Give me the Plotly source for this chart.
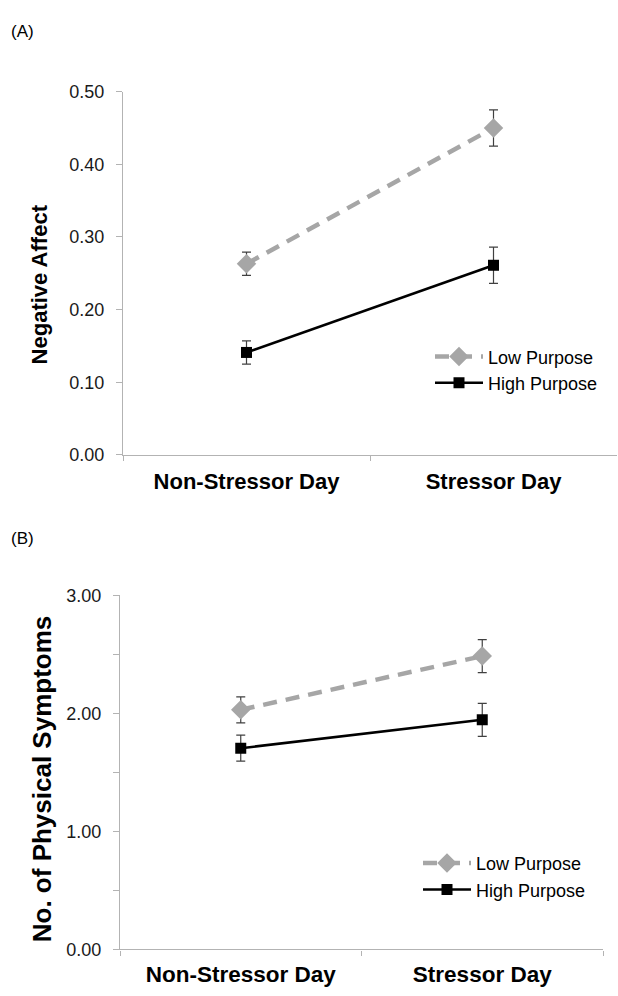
import plotly.graph_objects as go

# ---- data ----
days = ["Non-Stressor Day", "Stressor Day"]

# Panel A: Negative Affect
na_low = [0.263, 0.450]
na_low_err = [0.016, 0.025]
na_high = [0.141, 0.261]
na_high_err = [0.016, 0.025]

# Panel B: No. of Physical Symptoms
ps_low = [2.03, 2.485]
ps_low_err = [0.11, 0.14]
ps_high = [1.705, 1.945]
ps_high_err = [0.11, 0.14]

W, H = 618, 996
FONT = "Liberation Sans, Arial, sans-serif"
GRAY_AX = "#b3b3b3"
LOW_C = "#a6a6a6"
ERR_C = "#404040"


def px_x(p):
    return p / W


def px_y(p):
    return (H - p) / H


fig = go.Figure()


def add_panel(xa, ya, low, low_err, high, high_err, legend):
    fig.add_trace(go.Scatter(
        x=days, y=low, xaxis=xa, yaxis=ya, name="Low Purpose", legend=legend,
        mode="lines+markers",
        line=dict(color=LOW_C, width=4.5, dash="14px,9px"),
        marker=dict(symbol="diamond", size=15, color=LOW_C),
        error_y=dict(type="data", array=low_err, visible=True, color=ERR_C,
                     thickness=1.2, width=4.5),
    ))
    fig.add_trace(go.Scatter(
        x=days, y=high, xaxis=xa, yaxis=ya, name="High Purpose", legend=legend,
        mode="lines+markers",
        line=dict(color="#000000", width=2.5),
        marker=dict(symbol="square", size=11, color="#000000"),
        error_y=dict(type="data", array=high_err, visible=True, color=ERR_C,
                     thickness=1.2, width=4.5),
    ))


add_panel("x", "y", na_low, na_low_err, na_high, na_high_err, "legend")
add_panel("x2", "y2", ps_low, ps_low_err, ps_high, ps_high_err, "legend2")


def xaxis_style(size, standoff):
    return dict(
        type="category", range=[-0.5, 1.5], showline=True, linecolor=GRAY_AX,
        linewidth=1.3, ticks="outside", tickson="boundaries", ticklen=5,
        tickcolor=GRAY_AX, showgrid=False, zeroline=False,
        tickfont=dict(family=FONT, size=size, color="#000000", weight="bold"),
        ticklabelstandoff=standoff,
    )


ycommon = dict(
    showline=True, linecolor=GRAY_AX, linewidth=1.3, ticks="outside",
    ticklen=6, tickcolor=GRAY_AX, showgrid=False, zeroline=False,
    tickformat=".2f", tickfont=dict(family=FONT, size=18, color="#1a1a1a"),
    ticklabelstandoff=8,
)

legend_font = dict(family=FONT, size=18, color="#000000")

fig.update_layout(
    width=W, height=H,
    margin=dict(l=0, r=0, t=0, b=0),
    paper_bgcolor="white", plot_bgcolor="white",
    xaxis=dict(xaxis_style(22, 7), domain=[px_x(123), px_x(617)], anchor="y"),
    yaxis=dict(ycommon, domain=[px_y(454), px_y(83.3)], range=[0, 0.5],
               dtick=0.1, anchor="x"),
    xaxis2=dict(xaxis_style(22.5, 4), domain=[px_x(120), px_x(603)],
                anchor="y2"),
    yaxis2=dict(ycommon, domain=[px_y(958.7), px_y(597.3)], range=[0, 3],
                dtick=1, anchor="x2",
                minor=dict(dtick=0.5, ticks="outside", ticklen=6,
                           tickcolor=GRAY_AX)),
    legend=dict(x=px_x(430), y=px_y(335), xanchor="left", yanchor="top",
                bgcolor="rgba(0,0,0,0)", font=legend_font,
                tracegroupgap=0, itemwidth=48),
    legend2=dict(x=px_x(418), y=px_y(852), xanchor="left", yanchor="top",
                 bgcolor="rgba(0,0,0,0)", font=legend_font,
                 tracegroupgap=0, itemwidth=48),
    showlegend=True,
)

annots = [
    dict(text="(A)", x=px_x(9), y=px_y(22), xanchor="left", yanchor="middle",
         font=dict(family=FONT, size=17, color="#000000")),
    dict(text="(B)", x=px_x(9), y=px_y(539), xanchor="left", yanchor="middle",
         font=dict(family=FONT, size=17, color="#000000")),
    dict(text="<b>Negative Affect</b>", x=px_x(39), y=px_y(280), textangle=-90,
         xanchor="center", yanchor="middle",
         font=dict(family=FONT, size=22, color="#000000")),
    dict(text="<b>No. of Physical Symptoms</b>", x=px_x(42), y=px_y(785),
         textangle=-90, xanchor="center", yanchor="middle",
         font=dict(family=FONT, size=26, color="#000000")),
]
for a in annots:
    a.update(xref="paper", yref="paper", showarrow=False)
fig.update_layout(annotations=annots)

fig.write_html(
    "out.html",
    config={"responsive": False, "displayModeBar": False},
    post_script="document.body.style.margin='0';document.body.style.overflow='hidden';",
)
